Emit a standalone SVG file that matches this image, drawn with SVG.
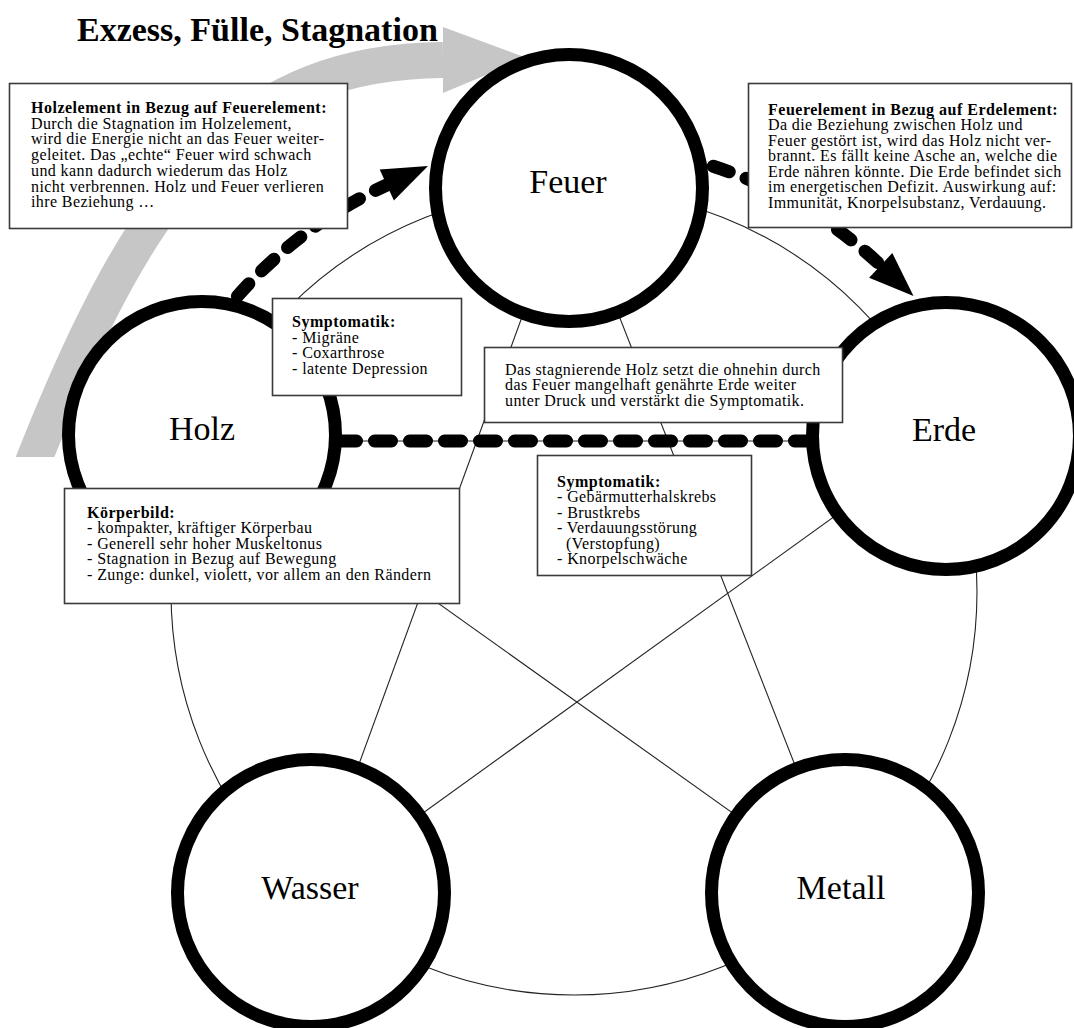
<svg xmlns="http://www.w3.org/2000/svg" width="1074" height="1028" viewBox="0 0 1074 1028">
<style>
.thin{fill:none;stroke:#222;stroke-width:1.1}
.node{fill:#fff;stroke:#000;stroke-width:13}
.lbl{font-family:"Liberation Serif","Times New Roman",serif;font-size:34px;fill:#000;text-anchor:middle}
.dash{fill:none;stroke:#000;stroke-width:13;stroke-linecap:round;stroke-dasharray:17 18}
.box{fill:#fff;stroke:#3a3a3a;stroke-width:1.6}
.txt{font-family:"Liberation Serif","Times New Roman",serif;font-size:16px;letter-spacing:0.4px;fill:#000}
.b{font-weight:bold;letter-spacing:0.5px}
.title{font-family:"Liberation Serif","Times New Roman",serif;font-size:34px;font-weight:bold;fill:#000}
</style>
<defs>
<clipPath id="clipBand"><rect x="0" y="0" width="1074" height="457"/></clipPath>
</defs>
<rect width="1074" height="1028" fill="#fff"/>

<g id="grey-arrow">
<path d="M29.5,471 L35,457 C146,178 243,62 443,60" fill="none" stroke="#c6c6c6" stroke-width="36" clip-path="url(#clipBand)"/>
<polygon points="443,27 527,58 443,93" fill="#c6c6c6"/>
</g>

<g id="connectors">
<circle class="thin" cx="574" cy="592" r="403"/>
<line class="thin" x1="569" y1="188" x2="312" y2="893"/>
<line class="thin" x1="569" y1="188" x2="845" y2="893"/>
<line class="thin" x1="202" y1="441" x2="946" y2="441"/>
<line class="thin" x1="202" y1="435" x2="845" y2="893"/>
<line class="thin" x1="946" y1="436" x2="312" y2="893"/>
</g>

<g id="node-feuer"><circle class="node" cx="569" cy="188" r="133.5"/><text class="lbl" x="568" y="193">Feuer</text></g>
<g id="node-holz"><circle class="node" cx="202" cy="435" r="133.5"/><text class="lbl" x="202" y="440">Holz</text></g>
<g id="node-erde"><circle class="node" cx="946" cy="436" r="133.5"/><text class="lbl" x="944" y="441">Erde</text></g>
<g id="node-wasser"><circle class="node" cx="311" cy="893" r="133.5"/><text class="lbl" x="310" y="899">Wasser</text></g>
<g id="node-metall"><circle class="node" cx="845" cy="893" r="133.5"/><text class="lbl" x="841" y="899">Metall</text></g>

<g id="dashed-connectors">
<path class="dash" d="M237.4,296.3 A448,448 0 0 1 386.8,185.0"/>
<polygon points="428,166 393.9,200.4 379.7,169.6" fill="#000"/>
<path class="dash" d="M713.2,166.2 A448,448 0 0 1 880.7,265.4"/>
<polygon points="913.5,296 892.3,253.0 869.1,277.8" fill="#000"/>
<path class="dash" d="M339.5,441 L808,441"/>
</g>

<g id="box-holz-feuer">
<rect class="box" x="9.5" y="83.5" width="338" height="145"/>
<text class="txt"><tspan class="b" x="31" y="113">Holzelement in Bezug auf Feuerelement:</tspan><tspan x="31" y="128.7">Durch die Stagnation im Holzelement,</tspan><tspan x="31" y="144.4">wird die Energie nicht an das Feuer weiter-</tspan><tspan x="31" y="160.1">geleitet. Das „echte“ Feuer wird schwach</tspan><tspan x="31" y="175.8">und kann dadurch wiederum das Holz</tspan><tspan x="31" y="191.5">nicht verbrennen. Holz und Feuer verlieren</tspan><tspan x="31" y="207.2">ihre Beziehung …</tspan></text>
</g>

<g id="box-feuer-erde">
<rect class="box" x="748.5" y="83.5" width="323" height="144"/>
<text class="txt"><tspan class="b" x="768" y="114.5">Feuerelement in Bezug auf Erdelement:</tspan><tspan x="768" y="130">Da die Beziehung zwischen Holz und</tspan><tspan x="768" y="145.5">Feuer gestört ist, wird das Holz nicht ver-</tspan><tspan x="768" y="161">brannt. Es fällt keine Asche an, welche die</tspan><tspan x="768" y="176.5">Erde nähren könnte. Die Erde befindet sich</tspan><tspan x="768" y="192">im energetischen Defizit. Auswirkung auf:</tspan><tspan x="768" y="207.5">Immunität, Knorpelsubstanz, Verdauung.</tspan></text>
</g>

<g id="box-symptomatik-holz">
<rect class="box" x="272.5" y="298.5" width="189" height="97"/>
<text class="txt"><tspan class="b" x="292" y="327">Symptomatik:</tspan><tspan x="292" y="342.5">- Migräne</tspan><tspan x="292" y="358">- Coxarthrose</tspan><tspan x="292" y="373.5">- latente Depression</tspan></text>
</g>

<g id="box-stagnierend">
<rect class="box" x="484.5" y="347.5" width="358" height="75"/>
<text class="txt"><tspan x="505" y="374.5">Das stagnierende Holz setzt die ohnehin durch</tspan><tspan x="505" y="390">das Feuer mangelhaft genährte Erde weiter</tspan><tspan x="505" y="405.5">unter Druck und verstärkt die Symptomatik.</tspan></text>
</g>

<g id="box-symptomatik-erde">
<rect class="box" x="537.5" y="455.5" width="214" height="120"/>
<text class="txt"><tspan class="b" x="557" y="486.5">Symptomatik:</tspan><tspan x="557" y="502">- Gebärmutterhalskrebs</tspan><tspan x="557" y="517.5">- Brustkrebs</tspan><tspan x="557" y="533">- Verdauungsstörung</tspan><tspan x="566" y="548.5">(Verstopfung)</tspan><tspan x="557" y="564">- Knorpelschwäche</tspan></text>
</g>

<g id="box-koerperbild">
<rect class="box" x="64.5" y="488.5" width="395" height="115"/>
<text class="txt"><tspan class="b" x="87" y="517.5">Körperbild:</tspan><tspan x="87" y="533">- kompakter, kräftiger Körperbau</tspan><tspan x="87" y="548.5">- Generell sehr hoher Muskeltonus</tspan><tspan x="87" y="564">- Stagnation in Bezug auf Bewegung</tspan><tspan x="87" y="579.5">- Zunge: dunkel, violett, vor allem an den Rändern</tspan></text>
</g>

<text id="title" class="title" x="77" y="41">Exzess, Fülle, Stagnation</text>
</svg>
